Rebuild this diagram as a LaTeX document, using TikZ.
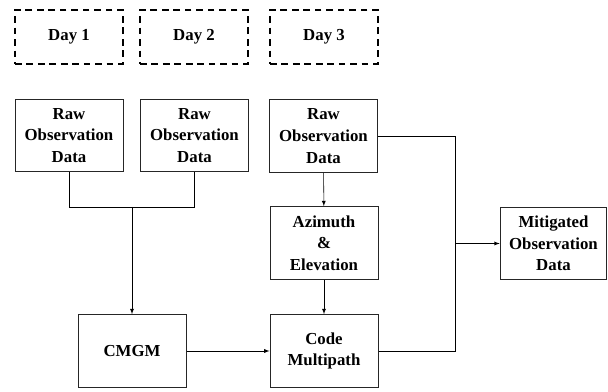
\documentclass[tikz,border=0pt]{standalone}
\usepackage{fontspec}
\setmainfont{Liberation Serif}
\begin{document}
\begin{tikzpicture}[x=0.75pt, y=-0.75pt, >=latex]
			\tikzstyle{day}=[draw=black, line width=1.5pt, dash pattern=on 5pt off 3.6pt, minimum width=81pt, minimum height=40pt, font=\bfseries\fontsize{12.6}{16.2}\selectfont]
			\tikzstyle{box}=[draw=black!85, line width=0.75pt, minimum width=81pt, minimum height=54.5pt, inner sep=1pt, align=center, font=\bfseries\fontsize{12.6}{16.2}\selectfont]
			
			\useasboundingbox (0,0) rectangle (608,392);
			
			\node at (69, 37) [day] (day1) {Day 1};
			\node at (194, 37) [day] (day2) {Day 2};
			\node at (324, 37) [day] (day3) {Day 3};
			
			\node at (69, 135.5) [box] (raw1) {Raw\\Observation\\Data};
			\node at (194.5, 135.5) [box] (raw2) {Raw\\Observation\\Data};
			\node at (323.5, 136) [box] (raw3) {Raw\\Observation\\Data};
			
			\node at (324, 243) [box] (azel) {Azimuth\\\&\\Elevation};
			\node at (553.5, 243.5) [box, minimum width=80pt] (mitig) {Mitigated\\Observation\\Data};
			
			\node at (132, 351) [box] (cmgm) {CMGM};
			\node at (324, 351) [box] (code) {Code\\Multipath};
			
			\coordinate (join1) at (132, 207);
			\coordinate (join2) at (455, 243.5);
			
			\draw (raw1.south) |- (join1);
			\draw (raw2.south) |- (join1);
			\draw [->] (join1) -- (cmgm.north);
			
			\draw [->] (raw3) -- (azel);
			\draw [->] (azel) -- (code);
			\draw [->] (cmgm) -- (code);
			
			\draw (raw3.east) -| (join2);
			\draw (code.east) -| (join2);
			\draw [->] (join2) -- (mitig.west);
		\end{tikzpicture}
\end{document}
